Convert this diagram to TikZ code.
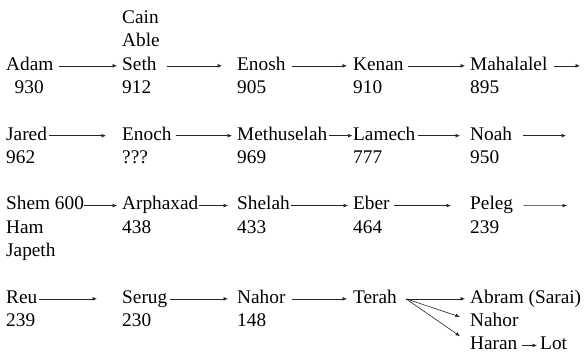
\documentclass[tikz,border=0pt]{standalone}
\usepackage{fontspec}
\setmainfont{Liberation Serif}
\newfontfamily\timesfont{Liberation Serif}
\usetikzlibrary{arrows.meta}
\begin{document}
\begin{tikzpicture}[x=1pt,y=1pt,
  lbl/.style={anchor=base west,inner sep=0pt,font=\timesfont\fontsize{19.3}{23.3}\selectfont},
  arr/.style={draw=black!85,line width=0.6pt,-{Latex[length=4.5pt,width=3.8pt]}}]
\useasboundingbox (0,0) rectangle (588,-357);
% row 1
\node[lbl] (cain) at (122,-23.5) {Cain};
\node[lbl] (able) at (122,-46.8) {Able};
\node[lbl] (adam) at (6,-70.1) {Adam};
\node[lbl] (seth) at (122,-70.1) {Seth};
\node[lbl] (enosh) at (237,-70.1) {Enosh};
\node[lbl] (kenan) at (353,-70.1) {Kenan};
\node[lbl] (mahalalel) at (470,-70.1) {Mahalalel};
\node[lbl] (n930) at (14.5,-93.4) {930};
\node[lbl] (n912) at (122,-93.4) {912};
\node[lbl] (n905) at (237,-93.4) {905};
\node[lbl] (n910) at (353,-93.4) {910};
\node[lbl] (n895) at (470,-93.4) {895};
\coordinate (e1) at (580,-65.8);
% row 2
\node[lbl] (jared) at (6,-140) {Jared};
\node[lbl] (enoch) at (122,-140) {Enoch};
\node[lbl] (methuselah) at (237,-140) {Methuselah};
\node[lbl] (lamech) at (353,-140) {Lamech};
\node[lbl] (noah) at (470,-140) {Noah};
\node[lbl] (n962) at (6,-163.3) {962};
\node[lbl] (nq) at (122,-163.3) {???};
\node[lbl] (n969) at (237,-163.3) {969};
\node[lbl] (n777) at (353,-163.3) {777};
\node[lbl] (n950) at (470,-163.3) {950};
\coordinate (e2) at (566,-135.7);
% row 3
\node[lbl] (shem) at (6,-209.9) {Shem 600};
\node[lbl] (ham) at (6,-233.2) {Ham};
\node[lbl] (japeth) at (6,-256.5) {Japeth};
\node[lbl] (arphaxad) at (122,-209.9) {Arphaxad};
\node[lbl] (shelah) at (237,-209.9) {Shelah};
\node[lbl] (eber) at (353,-209.9) {Eber};
\node[lbl] (peleg) at (470,-209.9) {Peleg};
\node[lbl] (n438) at (122,-233.2) {438};
\node[lbl] (n433) at (237,-233.2) {433};
\node[lbl] (n464) at (353,-233.2) {464};
\node[lbl] (n239a) at (470,-233.2) {239};
\coordinate (e3) at (567,-205.6);
% row 4
\node[lbl] (reu) at (6,-303.1) {Reu};
\node[lbl] (serug) at (122,-303.1) {Serug};
\node[lbl] (nahor) at (237,-303.1) {Nahor};
\node[lbl] (terah) at (353,-303.1) {Terah};
\node[lbl] (abram) at (470,-303.1) {Abram (Sarai)};
\node[lbl] (nahorb) at (470,-326.4) {Nahor};
\node[lbl] (haran) at (470,-349.7) {Haran};
\node[lbl] (lot) at (540,-349.7) {Lot};
\node[lbl] (n239b) at (6,-326.4) {239};
\node[lbl] (n230) at (122,-326.4) {230};
\node[lbl] (n148) at (237,-326.4) {148};
% arrows row 1
\draw[arr] ([shift={(5,4.3)}]adam.base east) -- ([shift={(-5,4.3)}]seth.base west);
\draw[arr] ([shift={(10,4.3)}]seth.base east) -- ([shift={(-15,4.3)}]enosh.base west);
\draw[arr] ([shift={(6,4.3)}]enosh.base east) -- ([shift={(-6,4.3)}]kenan.base west);
\draw[arr] ([shift={(4,4.3)}]kenan.base east) -- ([shift={(-5,4.3)}]mahalalel.base west);
\draw[arr] ([shift={(6,4.3)}]mahalalel.base east) -- (e1);
% arrows row 2
\draw[arr] ([shift={(1.5,4.3)}]jared.base east) -- ([shift={(-16,4.3)}]enoch.base west);
\draw[arr] ([shift={(4,4.3)}]enoch.base east) -- ([shift={(-5,4.3)}]methuselah.base west);
\draw[arr] ([shift={(2,4.3)}]methuselah.base east) -- ([shift={(-0.5,4.3)}]lamech.base west);
\draw[arr] ([shift={(2,4.3)}]lamech.base east) -- ([shift={(-10,4.3)}]noah.base west);
\draw[arr] ([shift={(11,4.3)}]noah.base east) -- (e2);
% arrows row 3
\draw[arr] ([shift={(0,4.3)}]shem.base east) -- ([shift={(-5,4.3)}]arphaxad.base west);
\draw[arr] ([shift={(0.5,4.3)}]arphaxad.base east) -- ([shift={(-9,4.3)}]shelah.base west);
\draw[arr] ([shift={(1,4.3)}]shelah.base east) -- ([shift={(-5,4.3)}]eber.base west);
\draw[arr] ([shift={(4,4.3)}]eber.base east) -- ([shift={(-19,4.3)}]peleg.base west);
\draw[arr] ([shift={(10,4.3)}]peleg.base east) -- (e3);
% arrows row 4
\draw[arr] ([shift={(2,4.3)}]reu.base east) -- ([shift={(-25,4.3)}]serug.base west);
\draw[arr] ([shift={(3,4.3)}]serug.base east) -- ([shift={(-9,4.3)}]nahor.base west);
\draw[arr] ([shift={(6,4.3)}]nahor.base east) -- ([shift={(-6,4.3)}]terah.base west);
\draw[arr] ([shift={(9,4.3)}]terah.base east) -- ([shift={(-5,4.3)}]abram.base west);
\draw[arr] ([shift={(9,4.3)}]terah.base east) -- ([shift={(-10,9.5)}]nahorb.base west);
\draw[arr] ([shift={(9,4.3)}]terah.base east) -- ([shift={(-10,13.5)}]haran.base west);
\draw[arr] ([shift={(4,4.3)}]haran.base east) -- ([shift={(-3,4.3)}]lot.base west);
\end{tikzpicture}
\end{document}
